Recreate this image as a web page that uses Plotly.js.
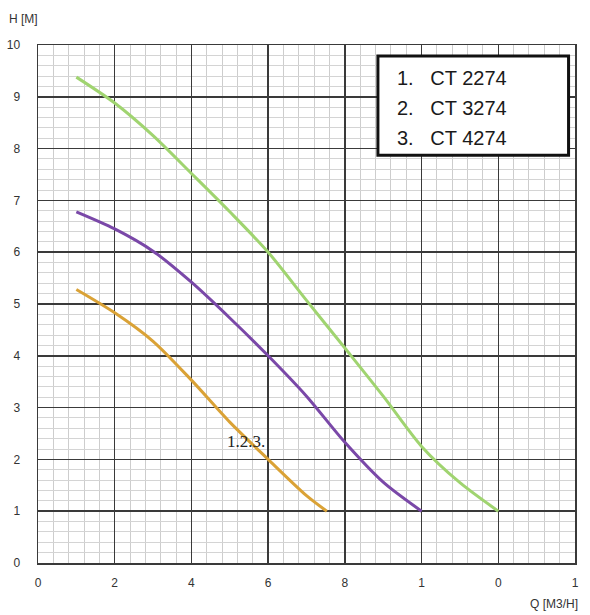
<!DOCTYPE html>
<html>
<head>
<meta charset="utf-8">
<script src="https://cdn.plot.ly/plotly-3.0.1.min.js"></script>
<style>
  html, body { margin: 0; padding: 0; background: #fff; }
  #chart { width: 590px; height: 615px; }
</style>
</head>
<body>
<div id="chart"></div>
<script>
// flow Q [m3/h] and head H [m]
const q2274 = [1, 2, 3, 4, 5, 6, 7, 7.53];
const h2274 = [5.28, 4.83, 4.28, 3.53, 2.72, 2.0, 1.3, 1.0];

const q3274 = [1, 2, 3, 4, 5, 6, 7, 8, 9, 10];
const h3274 = [6.78, 6.45, 6.02, 5.42, 4.73, 4.0, 3.22, 2.33, 1.56, 1.0];

const q4274 = [1, 2, 3, 4, 5, 6, 7, 8, 9, 10, 11, 12];
const h4274 = [9.38, 8.88, 8.25, 7.52, 6.78, 6.0, 5.07, 4.15, 3.22, 2.25, 1.55, 1.0];

const xTickVals = [0, 2, 4, 6, 8, 10, 12, 14];
const xTickText = ["0", "2", "4", "6", "8", "1", "0", "1"];
const yTickVals = [0, 1, 2, 3, 4, 5, 6, 7, 8, 9, 10];

const legendLines = ["1.\u00a0\u00a0\u00a0CT 2274", "2.\u00a0\u00a0\u00a0CT 3274", "3.\u00a0\u00a0\u00a0CT 4274"];

const curve = (x, y, color) => ({
  x: x,
  y: y,
  type: "scatter",
  mode: "lines",
  line: { color: color, width: 3, shape: "spline", smoothing: 0.8 },
  hoverinfo: "skip",
});

const data = [
  curve(q2274, h2274, "#daa236"),
  curve(q3274, h3274, "#7a48a8"),
  curve(q4274, h4274, "#a0d470"),
];

const tickFont = { family: "Liberation Sans, Arial, sans-serif", size: 12, color: "#333" };

const annotations = [
  {
    text: "H [M]", xref: "paper", yref: "paper", x: -0.057, y: 1.05,
    xanchor: "left", yanchor: "middle", showarrow: false, font: tickFont,
  },
  {
    text: "Q [M3/H]", xref: "paper", yref: "paper", x: 1.01, y: -0.08,
    xanchor: "right", yanchor: "middle", showarrow: false,
    font: { family: tickFont.family, size: 12, color: "#333" },
  },
  {
    text: "1.2.3.", xref: "x", yref: "y", x: 5.42, y: 2.34,
    showarrow: false,
    font: { family: "Liberation Serif, Times New Roman, serif", size: 17, color: "#222" },
  },
];

legendLines.forEach((t, i) => {
  annotations.push({
    text: t, xref: "paper", yref: "paper", x: 0.664, y: 0.937 - i * 0.058,
    xanchor: "left", yanchor: "middle", showarrow: false,
    font: { family: "Liberation Sans, Arial, sans-serif", size: 20, color: "#1a1a1a" },
  });
});

const layout = {
  width: 590,
  height: 615,
  margin: { l: 38, r: 15, t: 45, b: 52 },
  paper_bgcolor: "#fff",
  plot_bgcolor: "#fff",
  showlegend: false,
  xaxis: {
    range: [0, 14],
    tickvals: xTickVals,
    ticktext: xTickText,
    tickfont: tickFont,
    ticks: "",
    ticklabelstandoff: 8,
    showgrid: true,
    gridcolor: "#3a3a3a",
    gridwidth: 1.5,
    zeroline: false,
    showline: true,
    linecolor: "#3a3a3a",
    linewidth: 1.5,
    mirror: true,
    minor: { dtick: 0.4, showgrid: true, gridcolor: "#cdcdcd", gridwidth: 1 },
  },
  yaxis: {
    range: [0, 10],
    tickvals: yTickVals,
    tickfont: tickFont,
    ticks: "",
    ticklabelstandoff: 14,
    showgrid: true,
    gridcolor: "#3a3a3a",
    gridwidth: 1.5,
    zeroline: false,
    showline: true,
    linecolor: "#3a3a3a",
    linewidth: 1.5,
    mirror: true,
    minor: { dtick: 0.2, showgrid: true, gridcolor: "#d4d4d4", gridwidth: 1 },
  },
  shapes: [
    {
      type: "rect", xref: "paper", yref: "paper", layer: "above",
      x0: 0.633, x1: 0.988, y0: 0.787, y1: 0.979,
      fillcolor: "#fff", line: { color: "#111", width: 3 },
    },
  ],
  annotations: annotations,
};

Plotly.newPlot("chart", data, layout, { staticPlot: true });
</script>
</body>
</html>
